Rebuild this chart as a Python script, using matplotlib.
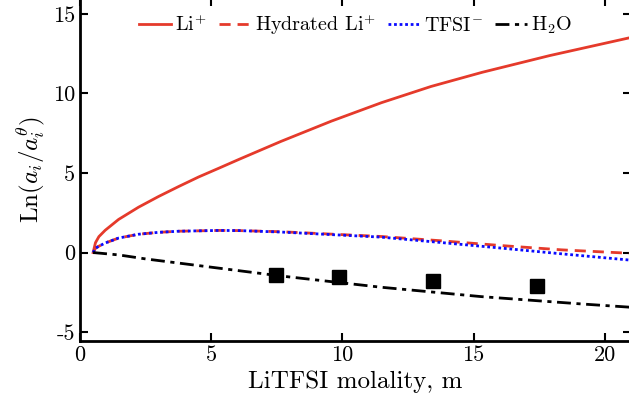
import numpy as np
import matplotlib
matplotlib.use("Agg")
import matplotlib.pyplot as plt

plt.rcParams["font.family"] = "serif"
plt.rcParams["font.serif"] = ["cmr10"]
plt.rcParams["mathtext.fontset"] = "cm"
plt.rcParams["axes.unicode_minus"] = False
plt.rcParams["font.size"] = 16

# values
li_x = [0.5, 0.59, 0.72, 0.96, 1.47, 2.23, 2.99, 3.76, 4.52, 5.29, 6.05, 6.8, 7.65,
        9.58, 11.49, 13.38, 15.33, 17.9, 21.0]
li_y = [0.0, 0.62, 1.0, 1.4, 2.08, 2.85, 3.52, 4.15, 4.75, 5.3, 5.85, 6.38, 6.98,
        8.26, 9.42, 10.44, 11.33, 12.38, 13.52]

hyd_x = [0.5, 0.59, 0.72, 0.96, 1.47, 2.23, 2.99, 3.76, 5.29, 6.05, 7.64, 11.47, 13.76, 16.05, 18.35, 21.0]
hyd_y = [0.0, 0.27, 0.4, 0.6, 0.91, 1.15, 1.27, 1.34, 1.39, 1.38, 1.31, 1.01, 0.74, 0.44, 0.17, -0.05]

tfsi_x = [0.5, 0.59, 0.72, 0.96, 1.47, 2.23, 2.99, 3.76, 5.29, 6.05, 7.64, 11.47, 13.76, 16.05, 18.35, 21.0]
tfsi_y = [0.0, 0.27, 0.4, 0.6, 0.91, 1.15, 1.27, 1.34, 1.39, 1.38, 1.29, 0.97, 0.63, 0.28, -0.08, -0.48]

h2o_x = [0.5, 1.48, 2.5, 7.64, 11.47, 15.29, 19.1, 21.0]
h2o_y = [0.0, -0.15, -0.40, -1.47, -2.18, -2.77, -3.23, -3.44]

exp_x = [7.48, 9.86, 13.47, 17.41]
exp_y = [-1.41, -1.51, -1.76, -2.10]

fig = plt.figure(figsize=(6.29, 4.12), dpi=100)
ax = fig.add_axes([80 / 629, 71 / 412, 551 / 629, 343 / 412])

red = "#e53a2b"
ax.plot(li_x, li_y, color=red, lw=2, label="Li$^{+}$")
ax.plot(hyd_x, hyd_y, color=red, lw=2, ls=(0, (4, 2.5)), label="Hydrated Li$^{+}$")
ax.plot(tfsi_x, tfsi_y, color="#0a0aff", lw=2, ls=(0, (1, 1)), label="TFSI$^{-}$")
ax.plot(h2o_x, h2o_y, color="black", lw=2, ls=(0, (5, 2, 1.5, 2)), label="H$_2$O")
ax.plot(exp_x, exp_y, "s", color="black", ms=10, zorder=5)

ax.set_xlim(0, 21.0)
ax.set_ylim(-5.56, 16.0)
ax.set_xticks([0, 5, 10, 15, 20])
ax.set_yticks([-5, 0, 5, 10, 15])
ax.tick_params(direction="in", top=True, right=True, length=6, width=1.5, labelsize=16)
for s in ax.spines.values():
    s.set_linewidth(2)

ax.set_xlabel("LiTFSI molality, m", fontsize=18)
ax.set_ylabel(r"Ln$(a_i/a_i^\theta)$", fontsize=18)

ax.legend(loc="upper center", bbox_to_anchor=(0.5, 1.0), ncol=4, frameon=False,
          fontsize=14.5, handlelength=1.6, handletextpad=0.2, columnspacing=0.6,
          borderaxespad=0.3)

fig.savefig("out.png", dpi=100)
